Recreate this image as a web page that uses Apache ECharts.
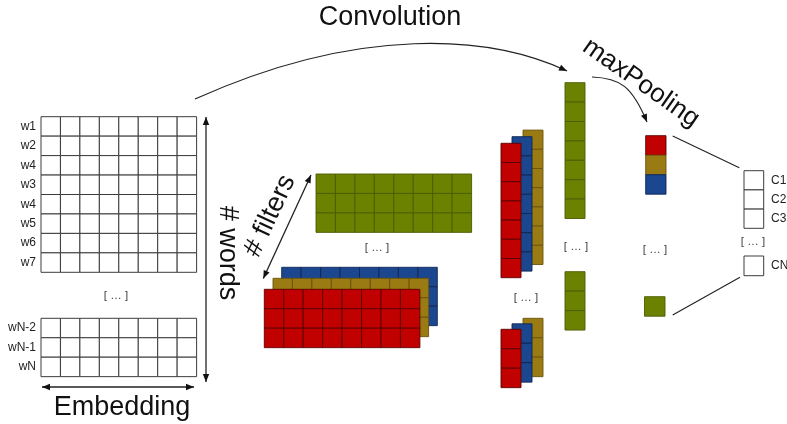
<!DOCTYPE html>
<html><head><meta charset="utf-8">
<script src="https://cdn.jsdelivr.net/npm/echarts@6/dist/echarts.min.js"></script>
<style>html,body{margin:0;padding:0;background:#fff}#c{width:787px;height:424px}</style>
</head><body><div id="c"></div>
<script>
// ---- content ----
const embeddingDim = 8;
const wordLabelsTop = ['w1','w2','w4','w3','w4','w5','w6','w7'];
const wordLabelsBottom = ['wN-2','wN-1','wN'];
const filterRegionSize = 3;
const filterLayers = ['red','gold','blue'];   // front -> back (filter stack, pooled column top -> bottom)
const convLayers = ['red','blue','gold'];     // front -> back (feature maps)
const lastFilter = 'green';
const convLenTop = 7;
const convLenBottom = 3;
const classLabels = ['C1','C2','C3'];
const lastClassLabel = 'CN';
const ellipsis = '[ … ]';
const titleConv = 'Convolution';
const titlePool = 'maxPooling';
const titleWords = '# words';
const titleFilters = '# filters';
const titleEmb = 'Embedding';

// ---- styles / layout ----
const keys = ['white','red','gold','blue','green'];
const fills = {white:'#ffffff', red:'#c10000', gold:'#9a7b13', blue:'#1b4690', green:'#6a8200'};
const strokes = {white:'#3c3c3c', red:'#5c0000', gold:'#6b540a', blue:'#0f2754', green:'#4a5b00'};
const FONT = "'Liberation Sans', Arial, sans-serif";
const C = 19.45;

const cells = [];
function block(x0, y0, cols, rows, cw, ch, key) {
  const k = keys.indexOf(key);
  for (let r = 0; r < rows; r++) for (let c = 0; c < cols; c++)
    cells.push([x0 + c * cw, y0 + r * ch, cw, ch, k]);
}
// embedding matrix
block(41, 116.7, embeddingDim, wordLabelsTop.length, C, C, 'white');
block(41, 318.3, embeddingDim, wordLabelsBottom.length, C, C, 'white');
// filters
block(316, 174, embeddingDim, filterRegionSize, C, C, lastFilter);
for (let i = filterLayers.length - 1; i >= 0; i--)
  block(264.3 + i * 8.7, 289.3 - i * 11, embeddingDim, filterRegionSize, C, C, filterLayers[i]);
// feature maps
for (let i = convLayers.length - 1; i >= 0; i--) {
  block(501 + i * 11, 143.3 - i * 6.6, 1, convLenTop, 20, 19.2, convLayers[i]);
  block(501 + i * 11, 329.3 - i * 5.5, 1, convLenBottom, 20, 19.45, convLayers[i]);
}
block(565, 82.7, 1, convLenTop, 20, 19.4, lastFilter);
block(565, 271.7, 1, convLenBottom, 20, 19.45, lastFilter);
// pooled
filterLayers.forEach((k, i) => block(645.7, 135.7 + i * 19.5, 1, 1, 20.3, 19.5, k));
block(644.5, 296.7, 1, 1, 20.5, 19.5, lastFilter);
// outputs
block(744, 170.7, 1, classLabels.length, 19.7, 19.2, 'white');
block(744, 256, 1, 1, 19.7, 19.7, 'white');

// ---- texts ----
const texts = [];
function txt(t, x, y, size, rot, align, color) { texts.push({t, x, y, size, rot: rot || 0, align: align || 'center', color: color || '#111'}); }
txt(titleConv, 390, 18, 27);
txt(titlePool, 641, 83, 26, -35);
txt(titleWords, 227, 253, 27, -90);
txt(titleFilters, 270, 216, 27, 65);
txt(titleEmb, 122, 408, 27);
[[116,296],[377,248],[526,297.5],[576,246.5],[655,250],[753,241.5]].forEach(p => txt(ellipsis, p[0], p[1], 11.5, 0, 'center', '#444'));
wordLabelsTop.forEach((w, i) => txt(w, 36, 116.7 + (i + 0.5) * C, 12, 0, 'right', '#222'));
wordLabelsBottom.forEach((w, i) => txt(w, 36, 318.3 + (i + 0.5) * C, 12, 0, 'right', '#222'));
classLabels.forEach((w, i) => txt(w, 771, 170.7 + (i + 0.5) * 19.2, 12, 0, 'left', '#222'));
txt(lastClassLabel, 771, 266, 12, 0, 'left', '#222');

// ---- arrows / connectors ----
const arrows = [
  {type:'curve', p:[[195,99],[360,25],[490,35],[567,71]], head:'end'},
  {type:'curve', p:[[592,77],[620,78],[632,86],[647,122]], head:'end'},
  {type:'line', p:[[206,117],[206,382]], head:'both'},
  {type:'line', p:[[42,387],[194,387]], head:'both'},
  {type:'line', p:[[311,175],[263.3,278.5]], head:'both'},
  {type:'line', p:[[672.7,136],[739.3,167.7]], head:'none'},
  {type:'line', p:[[672.7,315],[740,277.3]], head:'none'}
];

function headPoly(tip, from, len, half) {
  let dx = tip[0] - from[0], dy = tip[1] - from[1];
  const n = Math.hypot(dx, dy); dx /= n; dy /= n;
  const bx = tip[0] - dx * len, by = tip[1] - dy * len;
  return {type:'polygon', shape:{points:[tip, [bx - dy * half, by + dx * half], [bx + dy * half, by - dx * half]]}, style:{fill:'#111'}};
}

const chart = echarts.init(document.getElementById('c'), null, {renderer:'canvas'});
chart.setOption({
  animation: false,
  backgroundColor: '#fff',
  grid: {left:0, right:0, top:0, bottom:0},
  xAxis: {type:'value', min:0, max:787, show:false},
  yAxis: {type:'value', min:0, max:424, inverse:true, show:false},
  series: [
    {
      type:'custom', name:'cells', data: cells, encode:{x:0, y:1},
      renderItem(params, api) {
        const x = api.value(0), y = api.value(1), w = api.value(2), h = api.value(3), k = keys[api.value(4)];
        const p0 = api.coord([x, y]), p1 = api.coord([x + w, y + h]);
        return {type:'rect', shape:{x:p0[0], y:p0[1], width:p1[0]-p0[0], height:p1[1]-p0[1]},
          style:{fill:fills[k], stroke:strokes[k], lineWidth: k === 'white' ? 1 : 0.9}};
      }
    },
    {
      type:'custom', name:'arrows', data: arrows.map((a, i) => [a.p[0][0], a.p[0][1], i]), encode:{x:0, y:1},
      renderItem(params, api) {
        const a = arrows[api.value(2)];
        const P = a.p.map(q => api.coord(q));
        const children = [];
        if (a.type === 'curve') {
          children.push({type:'bezierCurve', shape:{x1:P[0][0], y1:P[0][1], cpx1:P[1][0], cpy1:P[1][1], cpx2:P[2][0], cpy2:P[2][1], x2:P[3][0], y2:P[3][1]},
            style:{stroke:'#222', lineWidth:1.2, fill:null}});
          children.push(headPoly(P[3], P[2], 8, 3.2));
        } else {
          children.push({type:'line', shape:{x1:P[0][0], y1:P[0][1], x2:P[1][0], y2:P[1][1]}, style:{stroke:'#222', lineWidth: a.head==='none'?1.1:1.3}});
          if (a.head === 'both') { children.push(headPoly(P[1], P[0], 8, 3.2)); children.push(headPoly(P[0], P[1], 8, 3.2)); }
        }
        return {type:'group', children};
      }
    },
    {
      type:'custom', name:'texts', data: texts.map((t, i) => [t.x, t.y, i]), encode:{x:0, y:1},
      renderItem(params, api) {
        const t = texts[api.value(2)];
        const p = api.coord([api.value(0), api.value(1)]);
        return {type:'text', x:p[0], y:p[1], rotation: t.rot * Math.PI / 180,
          style:{text:t.t, x:0, y:0, align:t.align, verticalAlign:'middle', fontSize:t.size, fontFamily:FONT, fill:t.color}};
      }
    }
  ]
});
</script>
</body></html>
